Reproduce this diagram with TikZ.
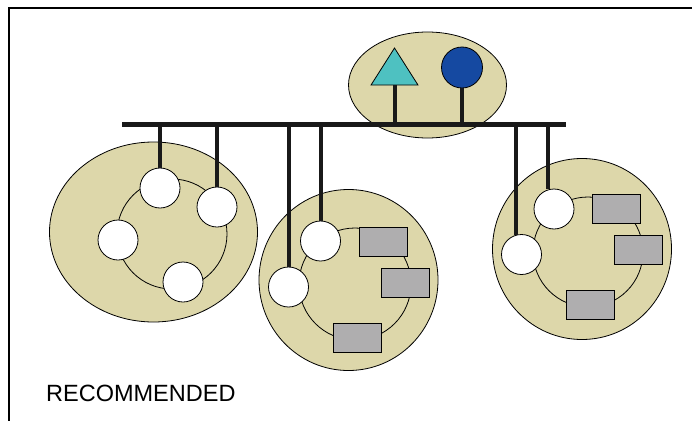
\documentclass[tikz,border=0pt]{standalone}
\usepackage{fontspec}
\setmainfont{Liberation Sans}
\usetikzlibrary{shapes.geometric}
\definecolor{sitekhaki}{RGB}{221,215,170}
\definecolor{boxgray}{RGB}{175,174,175}
\definecolor{serverteal}{RGB}{78,193,193}
\definecolor{serverblue}{RGB}{21,73,161}

\begin{document}
\begin{tikzpicture}[x=1pt, y=-1pt, font=\fontsize{23.5}{28}\selectfont,
  site/.style={draw, fill=sitekhaki, ellipse, inner sep=0pt, line width=0.8pt},
  ring/.style={draw, circle, inner sep=0pt, minimum size=110pt, line width=0.8pt},
  host/.style={draw, circle, fill=white, inner sep=0pt, minimum size=40pt, line width=0.8pt},
  box/.style={draw, fill=boxgray, inner sep=0pt, minimum width=48pt, minimum height=29pt, line width=0.8pt},
  stem/.style={line width=4pt, draw=black!90}]
\clip (0,0) rectangle (692,420);
\draw[line width=2pt] (9,8) rectangle (720,440);
\node[site, minimum width=158pt, minimum height=106pt] (top) at (427.5,85) {};
\node[site, minimum width=208pt, minimum height=180pt] (west) at (153.5,232) {};
\node[site, minimum width=179pt, minimum height=181pt] (mid) at (348.5,280) {};
\node[site, minimum width=179pt, minimum height=181pt] (east) at (582,249) {};
\coordinate (busL) at (122,124);
\coordinate (busR) at (566,124);
\draw[line width=5pt, draw=black!90] (busL) -- (busR);
\node[ring] (wring) at (172,234) {};
\node[ring, minimum size=112pt] (mring) at (355,284) {};
\node[ring] (ering) at (588,252) {};
\node[draw, isosceles triangle, isosceles triangle stretches, shape border rotate=90, fill=serverteal, inner sep=0pt, minimum width=47pt, minimum height=37pt, line width=0.8pt, anchor=apex] (tri) at (394.5,47) {};
\node[draw, circle, fill=serverblue, inner sep=0pt, minimum size=41pt, line width=0.8pt] (dot) at (462,67.5) {};
\draw[stem] (tri.south) -- (tri.south |- busL);
\draw[stem] (dot.south) -- (dot.south |- busL);
\node[host] (w1) at (160,188) {};
\node[host] (w2) at (217,207) {};
\node[host] (w3) at (118,240) {};
\node[host] (w4) at (183,282) {};
\draw[stem] (w1.north) -- (w1.north |- busL);
\draw[stem] (w2.north) -- (w2.north |- busL);
\node[host] (m1) at (320.5,241) {};
\node[host] (m2) at (288.5,287) {};
\node[box] (mb1) at (383.5,241.5) {};
\node[box] (mb2) at (405,283) {};
\node[box] (mb3) at (357,337.5) {};
\draw[stem] (m1.north) -- (m1.north |- busL);
\draw[stem] (m2.north) -- (m2.north |- busL);
\node[host] (e1) at (554,209) {};
\node[host] (e2) at (521.5,254.5) {};
\node[box] (eb1) at (616.5,209) {};
\node[box] (eb2) at (638,250) {};
\node[box] (eb3) at (590.5,305) {};
\draw[stem] (e1.107) -- (e1.107 |- busL);
\draw[stem] (e2.107) -- (e2.107 |- busL);
\node[anchor=base west, inner sep=0pt] (label) at (46,401) {RECOMMENDED};
\end{tikzpicture}
\end{document}
